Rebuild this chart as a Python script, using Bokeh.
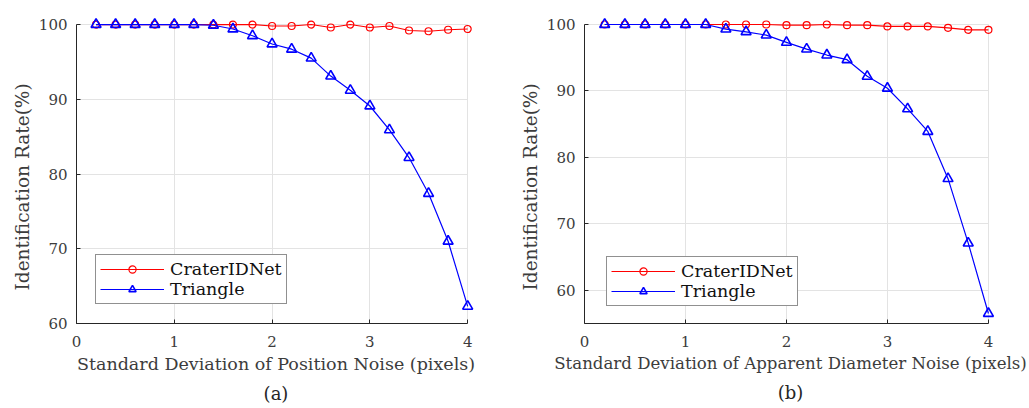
from bokeh.plotting import figure
from bokeh.layouts import row
from bokeh.models import FixedTicker, Title, Range1d
from bokeh.embed import file_html
from bokeh.resources import INLINE

noise = [0.2, 0.4, 0.6, 0.8, 1.0, 1.2, 1.4, 1.6, 1.8, 2.0,
         2.2, 2.4, 2.6, 2.8, 3.0, 3.2, 3.4, 3.6, 3.8, 4.0]

# (a) position noise
pos_crater = [100, 100, 100, 100, 100, 100, 100, 100, 100, 99.8,
              99.8, 100, 99.6, 100, 99.6, 99.8, 99.2, 99.1, 99.3, 99.4]
pos_triangle = [100, 100, 100, 100, 100, 100, 99.9, 99.4, 98.5, 97.4,
                96.7, 95.5, 93.1, 91.2, 89.1, 85.9, 82.2, 77.4, 71.0, 62.3]

# (b) apparent diameter noise
dia_crater = [100, 100, 100, 100, 100, 100, 100, 100, 100, 99.9,
              99.9, 100, 99.9, 99.9, 99.7, 99.7, 99.7, 99.5, 99.2, 99.2]
dia_triangle = [100, 100, 100, 100, 100, 100, 99.3, 98.9, 98.4, 97.3,
                96.3, 95.4, 94.7, 92.2, 90.4, 87.3, 83.9, 76.8, 67.1, 56.5]

x_ticks = [0, 1, 2, 3, 4]
y_ticks = [60, 70, 80, 90, 100]

FONT = "DejaVu Serif"
TXT = "#3c3c3c"
AX = "#262626"


def make(crater, triangle, ymin, ytop, xlabel, xlabel_size, caption, width, mbl, mbr, legend_loc):
    p = figure(width=width, height=408, output_backend="svg", toolbar_location=None,
               x_range=Range1d(0, 4.08), y_range=Range1d(ymin, ytop),
               min_border_left=mbl, min_border_right=mbr, min_border_top=17,
               min_border_bottom=85)
    p.outline_line_color = None
    p.background_fill_color = "white"
    p.border_fill_color = "white"

    p.line(noise, crater, color="#ff0000", line_width=1.2, legend_label="CraterIDNet")
    p.scatter(noise, crater, marker="circle", size=7, line_color="#ff0000",
              fill_color=None, line_width=1.2, legend_label="CraterIDNet")
    p.line(noise, triangle, color="#0000ff", line_width=1.2, legend_label="Triangle")
    p.scatter(noise, triangle, marker="triangle", size=10, line_color="#0000ff",
              fill_color=None, line_width=1.6, legend_label="Triangle")

    for ax in (p.xaxis[0], p.yaxis[0]):
        ax.axis_line_color = AX
        ax.axis_line_width = 1
        ax.major_tick_line_color = AX
        ax.major_tick_in = 4
        ax.major_tick_out = 0
        ax.minor_tick_line_color = None
        ax.major_label_text_font = FONT
        ax.major_label_text_font_size = "15px"
        ax.major_label_text_color = TXT
        ax.axis_label_text_font = FONT
        ax.axis_label_text_font_style = "normal"
        ax.axis_label_text_color = TXT

    p.xaxis.axis_label_text_font_size = xlabel_size
    p.xaxis.ticker = FixedTicker(ticks=x_ticks)
    p.yaxis.ticker = FixedTicker(ticks=y_ticks)
    p.xaxis.bounds = (0, 4)
    p.yaxis.bounds = (ymin, 100)
    p.xaxis.axis_label = xlabel
    p.xaxis.major_label_standoff = 12
    p.xaxis.axis_label_standoff = 4
    p.yaxis.major_label_standoff = 9

    p.grid.grid_line_color = "#e3e3e3"
    p.grid.grid_line_width = 1
    try:
        p.xgrid.cross_bounds = (ymin, 100)
        p.ygrid.cross_bounds = (0, 4)
    except Exception:
        pass

    p.legend.location = legend_loc
    p.legend.border_line_color = "#222222"
    p.legend.border_line_width = 1
    p.legend.background_fill_alpha = 1
    p.legend.label_text_font = FONT
    p.legend.label_text_font_size = "17.5px"
    p.legend.label_text_color = "#111111"
    p.legend.glyph_width = 64
    p.legend.glyph_height = 18
    p.legend.label_height = 18
    p.legend.label_standoff = 6
    p.legend.margin = 0
    p.legend.spacing = 0
    p.legend.padding = 4

    ylab = Title(text="Identification Rate(%)", align="left", offset=33,
                 text_font=FONT, text_font_size="18.5px", text_font_style="normal",
                 text_color=TXT, standoff=5)
    p.add_layout(ylab, "left")

    t = Title(text=caption, align="center", text_font=FONT, text_font_size="18px",
              text_font_style="normal", text_color=AX, standoff=9)
    p.add_layout(t, "below")
    return p


p1 = make(pos_crater, pos_triangle, 60, 100.94,
          "Standard Deviation of Position Noise (pixels)", "17.5px", "(a)",
          515, 76, 40, (19, 19))
p2 = make(dia_crater, dia_triangle, 55, 101.05,
          "Standard Deviation of Apparent Diameter Noise (pixels)", "16.6px", "(b)",
          514, 69, 33, (22, 17))

layout = row(p1, p2, spacing=0)
open("out.html", "w").write(file_html(layout, INLINE))
